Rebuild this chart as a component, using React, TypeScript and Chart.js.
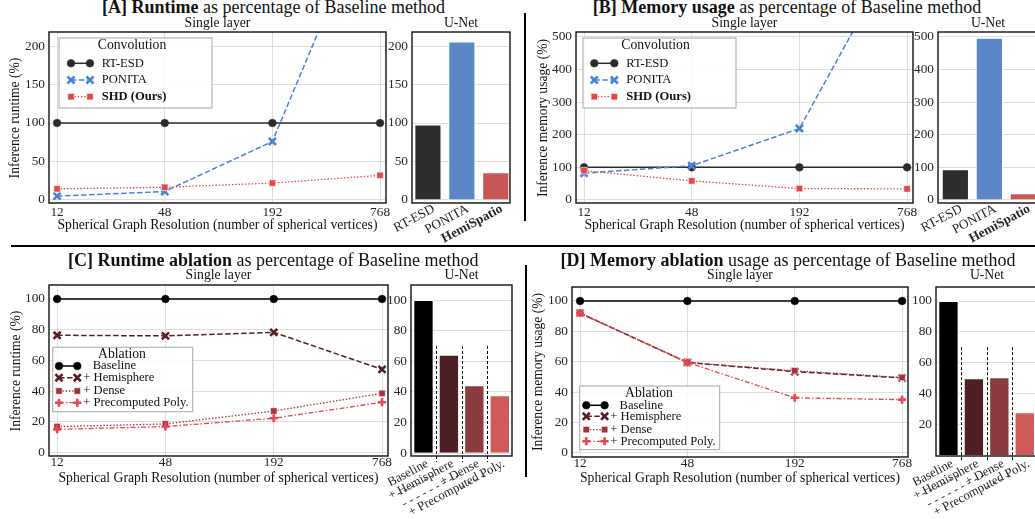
import React, { useEffect, useRef } from 'react';
import { Chart, registerables } from 'chart.js';
import { drawPoint } from 'chart.js/helpers';

Chart.register(...registerables);

const FONT = '"Liberation Serif", "Times New Roman", Times, serif';
const TEXT = '#111111';
const TICK = '#262626';
const GRID = '#dddddd';

// ---------------- data ----------------
const resolutionLabels = ['12', '48', '192', '768'];
const runtimeYTicks = [0, 50, 100, 150, 200];
const memoryYTicks = [0, 100, 200, 300, 400, 500];
const ablationYTicks = [0, 20, 40, 60, 80, 100];
const ablationUnetMemYTicks = [20, 40, 60, 80, 100];

const convLabels = ['RT-ESD', 'PONITA', 'SHD (Ours)'];
const rtEsdRuntime = [100, 100, 100, 100];
const ponitaRuntime = [5, 11, 76, 410];
const shdRuntime = [14.5, 16.5, 22, 32];
const rtEsdMemory = [100, 100, 100, 100];
const ponitaMemory = [82, 105, 219, 817];
const shdMemory = [90, 58.5, 35, 34];

const unetModels = ['RT-ESD', 'PONITA', 'HemiSpatio'];
const unetRuntime = [98, 206, 36];
const unetMemory = [94, 497, 20.5];

const ablationLabels = ['Baseline', '+ Hemisphere', '+ Dense', '+ Precomputed Poly.'];
const ablationLabelDashes = ['- - - - - -', '- - - - - - - - -', '- - - -', ''];
const baselineRuntime = [100, 100, 100, 100];
const hemisphereRuntime = [76.4, 76, 78.3, 54.2];
const denseRuntime = [17, 18.7, 27.1, 38.6];
const polyRuntime = [15.2, 17, 22.4, 32.8];
const ablationUnetRuntime = [100, 64.3, 44.3, 37.8];

const baselineMemory = [100, 100, 100, 100];
const hemisphereMemory = [92, 59.5, 53.5, 49.3];
const denseMemory = [92, 59.5, 54, 49.6];
const polyMemory = [92, 59.5, 36.2, 35];
const ablationUnetMemory = [100, 49.8, 50.5, 27.8];

// ---------------- styles ----------------
type Style = { color: string; dash: number[]; width: number; pointStyle: string; radius: number; pbw: number; pfill: string; pborder: string };
const convStyles: Style[] = [
  { color: '#2b2b2b', dash: [], width: 1.5, pointStyle: 'circle', radius: 3.8, pbw: 0.6, pfill: '#2b2b2b', pborder: '#2b2b2b' },
  { color: '#4a80d8', dash: [5.5, 2.5], width: 1.5, pointStyle: 'crossRot', radius: 5, pbw: 2.6, pfill: '#4a80d8', pborder: '#4a80d8' },
  { color: '#e24848', dash: [1.5, 1.8], width: 1.3, pointStyle: 'rect', radius: 4.6, pbw: 0.6, pfill: '#e24848', pborder: '#ffffff' },
];
const ablStyles: Style[] = [
  { color: '#000000', dash: [], width: 1.5, pointStyle: 'circle', radius: 3.8, pbw: 0.6, pfill: '#000000', pborder: '#000000' },
  { color: '#5a1e22', dash: [5.5, 2.5], width: 1.5, pointStyle: 'crossRot', radius: 5, pbw: 2.6, pfill: '#5a1e22', pborder: '#5a1e22' },
  { color: '#a33539', dash: [1.5, 1.8], width: 1.3, pointStyle: 'rect', radius: 4.6, pbw: 0.6, pfill: '#a33539', pborder: '#ffffff' },
  { color: '#e8464e', dash: [5, 2, 1.5, 2], width: 1.3, pointStyle: 'cross', radius: 4, pbw: 2.6, pfill: '#e8464e', pborder: '#e8464e' },
];
const convBarColors = ['#2e2e2e', '#5b87c6', '#c95656'];
const ablBarColors = ['#000000', '#4f2023', '#8c3b3f', '#cf5a5a'];

// ---------------- layout ----------------
type Area = { l: number; t: number; r: number; b: number };
const PAD = 2;
const RX = 16;
const AREA: Record<string, Area> = {
  aLine: { l: 49, t: 32, r: 386, b: 203 },
  aBar: { l: 412, t: 32, r: 510, b: 203 },
  bLine: { l: 576, t: 32, r: 913, b: 203 },
  bBar: { l: 938, t: 32, r: 1038, b: 203 },
  cLine: { l: 49, t: 285, r: 388, b: 456 },
  cBar: { l: 411, t: 285, r: 512, b: 456 },
  dLine: { l: 572, t: 287, r: 908, b: 457 },
  dBar: { l: 936, t: 287, r: 1038, b: 456 },
};
const LINE_XMIN = -0.075;
const LINE_XMAX = 3.055;

Chart.defaults.font.family = FONT;
Chart.defaults.color = TICK;

const fixY = (w: number) => (s: any) => {
  s.width = w;
  s.paddingTop = 0; s.paddingBottom = 0; s.paddingLeft = 0; s.paddingRight = 0;
};
const fixX = (h: number) => (s: any) => {
  s.height = h;
  s.paddingTop = 0; s.paddingBottom = 0; s.paddingLeft = 0; s.paddingRight = 0;
};

const framePlugin = {
  id: 'frame',
  afterDraw(chart: any) {
    const { ctx, chartArea: a } = chart;
    ctx.save();
    ctx.strokeStyle = '#111111';
    ctx.lineWidth = 1.4;
    ctx.strokeRect(a.left, a.top, a.right - a.left, a.bottom - a.top);
    ctx.restore();
  },
};

type LegendSpec = { box: number[]; title: string; titlePos: number[]; rows: number[]; line: number[]; textX: number[]; bold: number[] };
function legendPlugin(spec: LegendSpec) {
  return {
    id: 'mplLegend',
    afterDraw(chart: any) {
      const { ctx, chartArea: a } = chart;
      ctx.save();
      const [bx, by, bw, bh] = spec.box;
      ctx.fillStyle = 'rgba(255,255,255,0.85)';
      ctx.fillRect(a.left + bx, a.top + by, bw, bh);
      ctx.strokeStyle = '#b5b5b5';
      ctx.lineWidth = 1.2;
      ctx.strokeRect(a.left + bx, a.top + by, bw, bh);
      ctx.fillStyle = TEXT;
      ctx.font = `13.7px ${FONT}`;
      ctx.textAlign = 'center';
      ctx.textBaseline = 'middle';
      ctx.fillText(spec.title, a.left + spec.titlePos[0], a.top + spec.titlePos[1]);
      chart.data.datasets.forEach((ds: any, i: number) => {
        const y = a.top + spec.rows[i];
        const x0 = a.left + spec.line[0];
        const x1 = a.left + spec.line[1];
        ctx.strokeStyle = ds.borderColor;
        ctx.lineWidth = ds.borderWidth;
        ctx.setLineDash(ds.borderDash || []);
        ctx.beginPath();
        ctx.moveTo(x0, y);
        ctx.lineTo(x1, y);
        ctx.stroke();
        ctx.setLineDash([]);
        ctx.fillStyle = ds.pointBackgroundColor;
        ctx.strokeStyle = ds.pointBorderColor;
        ctx.lineWidth = ds.pointBorderWidth;
        for (const px of [x0, x1]) {
          drawPoint(ctx, { pointStyle: ds.pointStyle, rotation: 0, radius: ds.pointRadius, borderWidth: ds.pointBorderWidth } as any, px, y);
        }
        ctx.fillStyle = TEXT;
        ctx.textAlign = 'left';
        ctx.font = `${spec.bold.includes(i) ? 'bold ' : ''}12.6px ${FONT}`;
        ctx.fillText(ds.label, a.left + spec.textX[i], y);
      });
      ctx.restore();
    },
  };
}

function separatorPlugin(xs: number[], topValue: number, below: number) {
  return {
    id: 'separators',
    afterDraw(chart: any) {
      const { ctx, chartArea: a } = chart;
      const xs0 = chart.scales.x;
      const ys0 = chart.scales.y;
      ctx.save();
      ctx.strokeStyle = '#000000';
      ctx.lineWidth = 1;
      ctx.setLineDash([3, 2]);
      for (const v of xs) {
        const px = Math.round(xs0.getPixelForValue(v)) + 0.5;
        ctx.beginPath();
        ctx.moveTo(px, ys0.getPixelForValue(topValue));
        ctx.lineTo(px, a.bottom + below);
        ctx.stroke();
      }
      ctx.restore();
    },
  };
}

type Series = { label: string; values: number[]; style: Style };
const layoutPadding = { left: PAD, top: PAD, right: PAD + RX, bottom: PAD };

function makeLine(p: {
  series: Series[]; yMin: number; yMax: number; yTicks: number[]; xPad: number; legend: LegendSpec;
}) {
  return (yW: number, xH: number) => ({
    type: 'line',
    data: {
      datasets: p.series.map((s, i) => ({
        label: s.label,
        data: s.values.map((v, j) => ({ x: j, y: v })),
        borderColor: s.style.color,
        borderWidth: s.style.width,
        borderDash: s.style.dash,
        pointStyle: s.style.pointStyle,
        pointRadius: s.style.radius,
        pointBackgroundColor: s.style.pfill,
        pointBorderColor: s.style.pborder,
        pointBorderWidth: s.style.pbw,
        fill: false,
        tension: 0,
        clip: 0,
        order: p.series.length - i,
      })),
    },
    options: {
      responsive: false,
      animation: false,
      events: [],
      layout: { padding: layoutPadding, autoPadding: false },
      plugins: { legend: { display: false }, tooltip: { enabled: false } },
      scales: {
        x: {
          type: 'linear',
          min: LINE_XMIN,
          max: LINE_XMAX,
          afterBuildTicks: (s: any) => { s.ticks = resolutionLabels.map((_, i) => ({ value: i })); },
          ticks: {
            callback: (v: any) => resolutionLabels[v],
            padding: p.xPad,
            font: { size: 13.3, lineHeight: 1 },
            color: TICK,
            maxRotation: 0,
            minRotation: 0,
            autoSkip: false,
          },
          grid: { color: GRID, drawTicks: false, lineWidth: 1 },
          border: { display: false },
          afterFit: fixX(xH),
        },
        y: {
          type: 'linear',
          min: p.yMin,
          max: p.yMax,
          afterBuildTicks: (s: any) => { s.ticks = p.yTicks.map((v) => ({ value: v })); },
          ticks: { padding: 4, font: { size: 13.3, lineHeight: 1 }, color: TICK },
          grid: { color: GRID, drawTicks: false, lineWidth: 1 },
          border: { display: false },
          afterFit: fixY(yW),
        },
      },
    },
    plugins: [framePlugin, legendPlugin(p.legend)],
  });
}

function makeBar(p: {
  names: string[]; values: number[]; colors: string[]; xMin: number; xMax: number;
  yMin: number; yMax: number; yTicks: number[]; rotation: number; xPad: number; labelShift: number;
  label: (i: number) => any; boldIndex: number; fontSize: number; extra: any[];
}) {
  return (yW: number, xH: number) => ({
    type: 'bar',
    data: {
      datasets: [{
        data: p.values.map((v, i) => ({ x: i, y: v })),
        backgroundColor: p.colors,
        borderColor: '#ffffff',
        borderWidth: 1,
        borderSkipped: 'bottom',
        barPercentage: 0.8,
        categoryPercentage: 1,
      }],
    },
    options: {
      responsive: false,
      animation: false,
      events: [],
      layout: { padding: layoutPadding, autoPadding: false },
      plugins: { legend: { display: false }, tooltip: { enabled: false } },
      scales: {
        x: {
          type: 'linear',
          offset: false,
          min: p.xMin,
          max: p.xMax,
          afterBuildTicks: (s: any) => { s.ticks = p.names.map((_, i) => ({ value: i })); },
          ticks: {
            callback: (v: any) => p.label(v),
            padding: p.xPad,
            labelOffset: p.labelShift,
            font: (c: any) => ({ family: FONT, size: p.fontSize, lineHeight: 1.05, weight: c.index === p.boldIndex ? 'bold' : 'normal' }),
            color: TICK,
            minRotation: p.rotation,
            maxRotation: p.rotation,
            autoSkip: false,
          },
          grid: { display: false, offset: false },
          border: { display: false },
          afterFit: fixX(xH),
        },
        y: {
          type: 'linear',
          min: p.yMin,
          max: p.yMax,
          afterBuildTicks: (s: any) => { s.ticks = p.yTicks.map((v) => ({ value: v })); },
          ticks: { padding: 4, font: { size: 13.3, lineHeight: 1 }, color: TICK },
          grid: { color: GRID, drawTicks: false, lineWidth: 1 },
          border: { display: false },
          afterFit: fixY(yW),
        },
      },
    },
    plugins: [framePlugin, ...p.extra],
  });
}

function ChartCanvas({ area, yW, xH, make }: { area: Area; yW: number; xH: number; make: (yW: number, xH: number) => any }) {
  const ref = useRef<HTMLCanvasElement | null>(null);
  const left = area.l - yW - PAD;
  const top = area.t - PAD;
  const width = area.r - area.l + yW + 2 * PAD + RX;
  const height = area.b - area.t + xH + 2 * PAD;
  useEffect(() => {
    if (!ref.current) return;
    const chart = new Chart(ref.current, make(yW, xH));
    return () => chart.destroy();
  }, []);
  return <canvas ref={ref} width={width} height={height} style={{ position: 'absolute', left, top, width, height }} />;
}

function Txt({ x, y, size, rotate, children }: { x: number; y: number; size: number; rotate?: boolean; children: any }) {
  return (
    <div
      style={{
        position: 'absolute', left: x, top: y, fontFamily: FONT, fontSize: size, lineHeight: 1,
        whiteSpace: 'nowrap', color: TEXT,
        transform: `translate(-50%, -50%)${rotate ? ' rotate(-90deg)' : ''}`,
      }}
    >
      {children}
    </div>
  );
}

const convSeries = (a: number[], b: number[], c: number[]): Series[] => [
  { label: convLabels[0], values: a, style: convStyles[0] },
  { label: convLabels[1], values: b, style: convStyles[1] },
  { label: convLabels[2], values: c, style: convStyles[2] },
];
const ablSeries = (a: number[], b: number[], c: number[], d: number[]): Series[] => [
  { label: ablationLabels[0], values: a, style: ablStyles[0] },
  { label: ablationLabels[1], values: b, style: ablStyles[1] },
  { label: ablationLabels[2], values: c, style: ablStyles[2] },
  { label: ablationLabels[3], values: d, style: ablStyles[3] },
];

const legendA: LegendSpec = { box: [10, 6, 153, 70], title: 'Convolution', titlePos: [83, 13.5], rows: [31.3, 48, 64.7], line: [22, 41], textX: [52.7, 52.7, 52.7], bold: [2] };
const legendB: LegendSpec = { box: [7, 6, 153, 70], title: 'Convolution', titlePos: [79.5, 13.5], rows: [31.3, 48, 64.7], line: [18.3, 38.3], textX: [50.3, 50.3, 50.3], bold: [2] };
const legendC: LegendSpec = { box: [3.7, 62.3, 140, 64.4], title: 'Ablation', titlePos: [73, 69.3], rows: [81, 92.7, 106, 117.7], line: [10, 28.3], textX: [43.7, 34.3, 34.3, 34.3], bold: [] };
const legendD: LegendSpec = { box: [7.6, 99, 140, 63.6], title: 'Ablation', titlePos: [77, 106], rows: [118.3, 129.3, 142.6, 154.3], line: [14.3, 32.6], textX: [47.6, 38.3, 38.3, 38.3], bold: [] };

const makeA = makeLine({ series: convSeries(rtEsdRuntime, ponitaRuntime, shdRuntime), yMin: -3.9, yMax: 218.2, yTicks: runtimeYTicks, xPad: 2.5, legend: legendA });
const makeB = makeLine({ series: convSeries(rtEsdMemory, ponitaMemory, shdMemory), yMin: -9.2, yMax: 514.4, yTicks: memoryYTicks, xPad: 2.5, legend: legendB });
const makeC = makeLine({ series: ablSeries(baselineRuntime, hemisphereRuntime, denseRuntime, polyRuntime), yMin: -2.15, yMax: 109.1, yTicks: ablationYTicks, xPad: 0, legend: legendC });
const makeD = makeLine({ series: ablSeries(baselineMemory, hemisphereMemory, denseMemory, polyMemory), yMin: -2.8, yMax: 109.2, yTicks: ablationYTicks, xPad: 0, legend: legendD });

const makeABar = makeBar({
  names: unetModels, values: unetRuntime, colors: convBarColors, xMin: -0.47, xMax: 2.42,
  yMin: -3.9, yMax: 218.2, yTicks: runtimeYTicks, rotation: 28, xPad: -9, labelShift: 6,
  label: (i) => unetModels[i], boldIndex: 2, fontSize: 13.3, extra: [],
});
const makeBBar = makeBar({
  names: unetModels, values: unetMemory, colors: convBarColors, xMin: -0.51, xMax: 2.43,
  yMin: -9.2, yMax: 514.4, yTicks: memoryYTicks, rotation: 28, xPad: -9, labelShift: 6,
  label: (i) => unetModels[i], boldIndex: 2, fontSize: 13.3, extra: [],
});
const makeCBar = makeBar({
  names: ablationLabels, values: ablationUnetRuntime, colors: ablBarColors, xMin: -0.49, xMax: 3.48,
  yMin: -1.8, yMax: 109.8, yTicks: ablationYTicks, rotation: 28, xPad: -7, labelShift: 4,
  label: (i) => [ablationLabels[i], ablationLabelDashes[i]], boldIndex: -1, fontSize: 12.8,
  extra: [separatorPlugin([0.5, 1.5, 2.5], 70, 6)],
});
const makeDBar = makeBar({
  names: ablationLabels, values: ablationUnetMemory, colors: ablBarColors, xMin: -0.49, xMax: 3.52,
  yMin: -0.7, yMax: 109.1, yTicks: ablationUnetMemYTicks, rotation: 28, xPad: -7, labelShift: 4,
  label: (i) => [ablationLabels[i], ablationLabelDashes[i]], boldIndex: -1, fontSize: 12.8,
  extra: [separatorPlugin([0.5, 1.5, 2.5], 70, 6)],
});

export default function App() {
  return (
    <div style={{ position: 'fixed', left: 0, top: 0, width: 1035, height: 519, overflow: 'hidden', background: '#ffffff' }}>
      <ChartCanvas area={AREA.aLine} yW={45} xH={22} make={makeA} />
      <ChartCanvas area={AREA.aBar} yW={26} xH={70} make={makeABar} />
      <ChartCanvas area={AREA.bLine} yW={45} xH={22} make={makeB} />
      <ChartCanvas area={AREA.bBar} yW={26} xH={70} make={makeBBar} />
      <ChartCanvas area={AREA.cLine} yW={45} xH={22} make={makeC} />
      <ChartCanvas area={AREA.cBar} yW={24} xH={70} make={makeCBar} />
      <ChartCanvas area={AREA.dLine} yW={45} xH={22} make={makeD} />
      <ChartCanvas area={AREA.dBar} yW={26} xH={70} make={makeDBar} />

      <Txt x={273.5} y={6.8} size={18}><b>[A] Runtime</b> as percentage of Baseline method</Txt>
      <Txt x={217.5} y={22.8} size={13.7}>Single layer</Txt>
      <Txt x={461} y={22.8} size={13.7}>U-Net</Txt>
      <Txt x={217.5} y={225} size={13.7}>Spherical Graph Resolution (number of spherical vertices)</Txt>
      <Txt x={15} y={117.5} size={13.6} rotate>Inference runtime (%)</Txt>

      <Txt x={787} y={6.8} size={18}><b>[B] Memory usage</b> as percentage of Baseline method</Txt>
      <Txt x={744.5} y={22.8} size={13.7}>Single layer</Txt>
      <Txt x={988} y={22.8} size={13.7}>U-Net</Txt>
      <Txt x={744.5} y={225} size={13.7}>Spherical Graph Resolution (number of spherical vertices)</Txt>
      <Txt x={543.3} y={117.5} size={13.6} rotate>Inference memory usage (%)</Txt>

      <Txt x={273.3} y={260.3} size={18}><b>[C] Runtime ablation</b> as percentage of Baseline method</Txt>
      <Txt x={218.5} y={274.5} size={13.7}>Single layer</Txt>
      <Txt x={461.5} y={274.5} size={13.7}>U-Net</Txt>
      <Txt x={218.5} y={478} size={13.7}>Spherical Graph Resolution (number of spherical vertices)</Txt>
      <Txt x={15.7} y={370.5} size={13.6} rotate>Inference runtime (%)</Txt>

      <Txt x={788} y={260.3} size={18}><b>[D] Memory ablation</b> usage as percentage of Baseline method</Txt>
      <Txt x={740} y={274.5} size={13.7}>Single layer</Txt>
      <Txt x={987} y={274.5} size={13.7}>U-Net</Txt>
      <Txt x={740} y={478} size={13.7}>Spherical Graph Resolution (number of spherical vertices)</Txt>
      <Txt x={537.7} y={371.8} size={13.6} rotate>Inference memory usage (%)</Txt>

      <div style={{ position: 'absolute', left: 523.5, top: 13, width: 2, height: 208, background: '#000' }} />
      <div style={{ position: 'absolute', left: 11, top: 244.5, width: 1030, height: 2, background: '#000' }} />
      <div style={{ position: 'absolute', left: 524.5, top: 265, width: 2, height: 212, background: '#000' }} />
    </div>
  );
}
